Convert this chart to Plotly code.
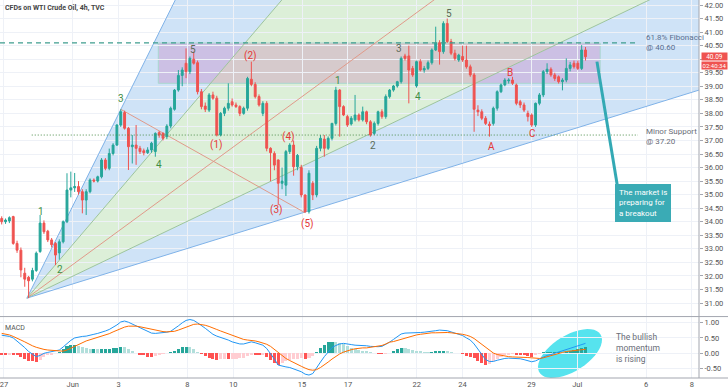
import math
import plotly.graph_objects as go

# ---------------- data ----------------
day_ticks = [0, 3, 5, 8, 10, 13, 15, 18, 20, 23, 25, 28, 30]
day_labels = ["27", "Jun", "3", "8", "10", "15", "17", "22", "24", "29", "Jul", "6", "8"]

opens = [34.12, 34.00, 34.03, 34.19, 33.20, 32.95, 32.10, 31.95, 31.88, 32.20,
         32.90, 33.95, 33.65, 33.33, 33.20, 32.85, 33.26, 34.00, 35.17, 35.25,
         35.30, 35.11, 34.80, 35.11, 35.54, 35.50, 35.66, 36.28, 35.97, 36.52,
         36.83, 37.57, 38.03, 37.45, 36.77, 36.83, 36.71, 36.62, 36.55, 36.65,
         36.59, 37.29, 37.26, 37.14, 37.53, 38.15, 38.86, 39.40, 39.85, 39.54,
         40.00, 39.87, 38.80, 38.27, 38.12, 38.68, 38.56, 37.20, 38.00, 38.19,
         38.43, 38.31, 38.25, 38.00, 38.19, 39.26, 39.07, 38.62, 38.00, 38.37,
         36.71, 36.52, 36.28, 35.42, 35.35, 36.59, 36.83, 36.03, 36.00, 34.99,
         34.37, 35.42, 34.99, 36.71, 37.05, 36.71, 37.08, 37.63, 38.86, 38.25,
         37.88, 37.61, 37.76, 37.94, 37.76, 38.06, 37.69, 37.26, 37.63, 38.06,
         37.88, 38.62, 38.86, 39.01, 39.17, 40.12, 40.12, 39.66, 39.01, 39.91,
         39.60, 39.66, 39.87, 40.34, 40.61, 40.28, 41.32, 40.65, 40.22, 39.97,
         40.10, 39.97, 39.72, 39.42, 38.12, 38.06, 37.82, 37.60, 37.63, 38.19,
         38.80, 39.05, 39.20, 39.23, 39.05, 38.43, 38.31, 38.00, 37.94, 37.57,
         38.37, 38.68, 39.54, 39.63, 39.42, 39.35, 39.17, 39.23, 39.66, 39.85,
         39.85, 39.66, 40.34]
highs = [34.20, 34.12, 34.20, 34.22, 33.30, 33.05, 32.30, 32.00, 32.30, 32.90,
         34.25, 34.05, 33.70, 33.40, 33.25, 33.35, 34.05, 35.79, 35.85, 35.80,
         35.50, 35.20, 35.20, 35.60, 35.60, 35.70, 36.35, 36.35, 36.70, 36.90,
         37.60, 38.15, 38.10, 37.50, 37.20, 37.57, 36.80, 36.70, 36.75, 36.95,
         37.30, 37.35, 37.30, 37.60, 38.25, 38.90, 39.60, 39.70, 40.40, 40.10,
         40.28, 39.95, 38.90, 38.40, 38.75, 38.80, 38.65, 38.05, 38.25, 39.11,
         38.55, 38.40, 38.30, 38.25, 39.35, 39.91, 39.15, 38.70, 38.45, 38.45,
         36.75, 36.60, 36.30, 36.00, 36.65, 36.90, 37.00, 36.50, 36.10, 35.00,
         35.90, 35.50, 36.80, 37.20, 37.20, 37.15, 37.65, 38.98, 38.90, 38.30,
         37.95, 37.90, 38.68, 38.00, 38.25, 38.10, 37.75, 37.70, 38.10, 38.15,
         38.70, 38.90, 39.05, 39.20, 40.10, 40.20, 40.50, 39.75, 39.95, 40.00,
         39.75, 39.95, 40.40, 41.20, 40.70, 41.40, 41.50, 40.75, 40.35, 40.20,
         40.50, 40.50, 39.80, 39.50, 38.30, 38.15, 37.90, 37.70, 38.25, 38.85,
         39.10, 39.30, 39.30, 39.35, 39.10, 38.50, 38.40, 38.10, 38.00, 38.40,
         38.75, 39.60, 39.85, 39.70, 39.50, 39.40, 39.30, 40.03, 39.90, 39.95,
         39.95, 40.52, 40.45]
lows = [33.90, 33.92, 33.95, 33.15, 32.85, 31.95, 31.60, 31.18, 31.80, 32.15,
        32.85, 33.55, 33.25, 33.05, 32.40, 32.60, 33.20, 33.95, 34.90, 35.10,
        35.00, 34.31, 34.25, 35.05, 35.45, 35.45, 35.60, 35.90, 35.90, 36.45,
        36.80, 37.50, 37.40, 35.91, 36.15, 36.10, 36.50, 36.45, 36.50, 36.55,
        36.40, 37.10, 37.00, 37.05, 37.45, 38.10, 38.80, 39.00, 39.30, 39.45,
        39.80, 38.70, 38.15, 38.05, 38.05, 38.50, 37.15, 37.15, 37.90, 38.10,
        38.25, 38.20, 37.90, 37.95, 38.10, 39.00, 38.55, 38.25, 37.90, 36.60,
        35.50, 35.90, 34.62, 35.20, 34.95, 36.50, 35.70, 35.90, 34.90, 34.33,
        34.30, 34.80, 34.90, 36.60, 36.40, 36.65, 37.00, 37.55, 37.14, 37.90,
        37.50, 37.55, 37.70, 37.70, 37.70, 37.60, 37.14, 37.20, 37.55, 37.80,
        37.80, 38.55, 38.80, 38.95, 39.10, 39.95, 38.37, 39.35, 38.95, 39.55,
        39.50, 39.60, 39.80, 40.30, 39.80, 40.20, 40.60, 40.15, 39.95, 39.90,
        39.90, 39.65, 39.35, 37.32, 37.90, 37.75, 37.57, 37.14, 37.55, 38.10,
        38.75, 39.00, 39.10, 39.05, 38.30, 38.20, 38.05, 37.70, 37.50, 37.50,
        38.30, 38.60, 39.45, 39.35, 39.20, 39.10, 38.85, 39.15, 39.55, 39.65,
        39.60, 39.60, 39.95]
closes = [34.00, 34.06, 34.15, 33.20, 32.95, 32.22, 31.88, 31.82, 32.20, 32.84,
          33.95, 33.63, 33.33, 33.15, 32.77, 33.26, 34.00, 35.17, 35.25, 35.30,
          35.11, 34.80, 35.11, 35.54, 35.50, 35.66, 36.28, 35.97, 36.52, 36.83,
          37.57, 38.06, 37.45, 36.77, 36.83, 36.71, 36.59, 36.55, 36.65, 36.90,
          37.26, 37.20, 37.08, 37.53, 38.19, 38.86, 39.40, 39.60, 39.54, 40.03,
          39.85, 38.80, 38.25, 38.15, 38.68, 38.56, 37.20, 38.00, 38.19, 38.37,
          38.31, 38.25, 38.00, 38.19, 39.29, 39.07, 38.62, 38.31, 38.37, 36.71,
          36.55, 36.09, 35.42, 35.50, 36.59, 36.83, 36.03, 36.45, 34.99, 34.37,
          35.79, 34.99, 36.71, 37.08, 36.71, 37.08, 37.63, 38.86, 38.25, 37.94,
          37.57, 37.82, 37.94, 37.76, 38.06, 37.69, 37.20, 37.63, 38.06, 37.88,
          38.62, 38.86, 39.01, 39.17, 40.03, 40.03, 39.60, 39.42, 39.91, 39.60,
          39.66, 39.87, 40.34, 40.59, 40.28, 41.32, 40.65, 40.22, 40.03, 40.15,
          39.97, 39.72, 39.42, 38.15, 38.06, 37.82, 37.63, 37.55, 38.19, 38.80,
          39.05, 39.23, 39.23, 39.11, 38.37, 38.31, 38.12, 37.88, 37.57, 38.37,
          38.68, 39.54, 39.63, 39.42, 39.29, 39.17, 39.23, 39.66, 39.79, 39.72,
          39.66, 40.34, 40.09]

macd_line = [0.59, 0.57, 0.55, 0.50, 0.40, 0.30, 0.18, 0.05, -0.03, -0.12,
             -0.08, -0.01, 0.02, 0.04, 0.06, 0.10, 0.20, 0.32, 0.42, 0.50,
             0.53, 0.55, 0.56, 0.58, 0.62, 0.65, 0.68, 0.73, 0.78, 0.85,
             0.93, 1.03, 1.06, 1.02, 0.96, 0.88, 0.82, 0.76, 0.70, 0.66,
             0.65, 0.66, 0.67, 0.69, 0.72, 0.80, 0.90, 1.00, 1.08, 1.11,
             1.08, 1.00, 0.92, 0.82, 0.72, 0.62, 0.56, 0.52, 0.48, 0.43,
             0.37, 0.33, 0.30, 0.30, 0.34, 0.37, 0.34, 0.29, 0.26, 0.15,
             -0.01, -0.20, -0.40, -0.44, -0.46, -0.48, -0.52, -0.58, -0.62, -0.70,
             -0.73, -0.68, -0.51, -0.30, -0.12, 0.05, 0.18, 0.25, 0.30, 0.32,
             0.31, 0.28, 0.26, 0.26, 0.25, 0.24, 0.22, 0.21, 0.21, 0.22,
             0.28, 0.36, 0.45, 0.55, 0.63, 0.66, 0.66, 0.66, 0.67, 0.68,
             0.69, 0.70, 0.72, 0.74, 0.76, 0.76, 0.74, 0.70, 0.66, 0.64,
             0.58, 0.50, 0.43, 0.30, 0.12, -0.06, -0.22, -0.28, -0.28, -0.24,
             -0.20, -0.18, -0.17, -0.17, -0.18, -0.19, -0.22, -0.26, -0.29, -0.26,
             -0.20, -0.13, -0.08, -0.05, -0.01, 0.03, 0.06, 0.10, 0.14, 0.18,
             0.22, 0.27, 0.32]
signal_line = [0.65, 0.63, 0.60, 0.55, 0.48, 0.43, 0.37, 0.30, 0.24, 0.19,
               0.15, 0.12, 0.10, 0.09, 0.07, 0.06, 0.06, 0.10, 0.16, 0.23,
               0.30, 0.35, 0.40, 0.44, 0.48, 0.52, 0.55, 0.59, 0.64, 0.70,
               0.76, 0.82, 0.86, 0.89, 0.90, 0.89, 0.87, 0.84, 0.82, 0.79,
               0.76, 0.73, 0.71, 0.70, 0.70, 0.72, 0.76, 0.81, 0.87, 0.92,
               0.95, 0.96, 0.95, 0.92, 0.88, 0.82, 0.78, 0.73, 0.68, 0.64,
               0.58, 0.53, 0.48, 0.45, 0.43, 0.42, 0.40, 0.37, 0.33, 0.29,
               0.22, 0.12, 0.00, -0.10, -0.18, -0.25, -0.32, -0.38, -0.44, -0.50,
               -0.55, -0.57, -0.55, -0.48, -0.40, -0.30, -0.20, -0.10, -0.03, 0.03,
               0.08, 0.11, 0.14, 0.16, 0.17, 0.17, 0.19, 0.21, 0.23, 0.25,
               0.30, 0.36, 0.38, 0.42, 0.45, 0.49, 0.53, 0.57, 0.60, 0.62,
               0.64, 0.66, 0.67, 0.67, 0.68, 0.68, 0.68, 0.67, 0.66, 0.64,
               0.62, 0.59, 0.55, 0.48, 0.38, 0.27, 0.17, 0.07, 0.00, -0.05,
               -0.08, -0.10, -0.12, -0.13, -0.13, -0.13, -0.14, -0.15, -0.16, -0.18,
               -0.18, -0.16, -0.12, -0.09, -0.05, -0.02, 0.02, 0.05, 0.07, 0.09,
               0.10, 0.11, 0.12]

# wave labels: (day, price, text, colour-key)
wave_labels = [
    (1.60, 34.37, "1", "g"), (2.44, 32.22, "2", "g"), (5.09, 38.56, "3", "g"),
    (6.76, 36.12, "4", "g"), (8.26, 40.36, "5", "d"),
    (9.25, 36.83, "(1)", "r"), (10.73, 40.13, "(2)", "r"), (11.89, 34.43, "(3)", "r"),
    (12.40, 37.14, "(4)", "r"), (13.23, 33.92, "(5)", "r"),
    (14.55, 39.23, "1", "g"), (16.08, 36.81, "2", "d"), (17.24, 40.40, "3", "d"),
    (18.07, 38.64, "4", "g"), (19.41, 41.69, "5", "d"),
    (21.24, 36.77, "A", "r"), (22.07, 39.52, "B", "r"), (23.06, 37.24, "C", "r"),
]

fib_level = 40.60
support_level = 37.20
last_price = 40.09

# ---------------- geometry / style ----------------
W, H = 728, 391
MR, MB = 29, 13
PW, PH = W - MR, H - MB
XR = [-0.174, 30.31]
YR = [30.52, 42.185]
Y2R = [-0.828, 1.189]
MAIN_DOM = [0.164, 1.0]
MACD_DOM = [0.0, 0.161]
FIRST_BAR, BAR_STEP = -0.1, 0.1675

GREEN = "#26a69a"
RED = "#ef5350"
GRID = "#eef1f7"
FONT = "Roboto"

x = [FIRST_BAR + i * BAR_STEP for i in range(len(closes))]
hist = [m - s for m, s in zip(macd_line, signal_line)]
hcol = []
for i, h in enumerate(hist):
    prev = hist[i - 1] if i else h
    if h >= 0:
        hcol.append("#26a69a" if h >= prev else "#b2dfdb")
    else:
        hcol.append("#ff5252" if h <= prev else "#ffcdd2")

fig = go.Figure()
fig.add_trace(go.Candlestick(
    x=x, open=opens, high=highs, low=lows, close=closes,
    increasing=dict(line=dict(color=GREEN, width=1), fillcolor=GREEN),
    decreasing=dict(line=dict(color=RED, width=1), fillcolor=RED),
    whiskerwidth=0, xaxis="x", yaxis="y", showlegend=False, hoverinfo="skip"))
fig.add_trace(go.Bar(x=x, y=hist, marker=dict(color=hcol, line=dict(width=0)),
                     width=BAR_STEP * 0.8, xaxis="x2", yaxis="y2", showlegend=False))
fig.add_trace(go.Scatter(x=x, y=macd_line, mode="lines", line=dict(color="#2196f3", width=1),
                         xaxis="x2", yaxis="y2", showlegend=False))
fig.add_trace(go.Scatter(x=x, y=signal_line, mode="lines", line=dict(color="#ff6d00", width=1),
                         xaxis="x2", yaxis="y2", showlegend=False))

shapes = []
# fan
O = (1.0, 31.18)
slopes = [1.701, 0.990, 0.620, 0.4055, 0.262]
TOP = 44.0
FAR = 32.0
def at_top(k):
    return O[0] + (TOP - O[1]) / k
def at_far(k):
    return O[1] + k * (FAR - O[0])
blue_fill = "#cfe3f7"
green_fill = "#dcefd8"
shapes.append(dict(type="path", xref="x", yref="y", layer="below", line=dict(width=0),
                   fillcolor=blue_fill,
                   path=f"M{O[0]},{O[1]} L{at_top(slopes[0])},{TOP} L{at_top(slopes[1])},{TOP} Z"))
shapes.append(dict(type="path", xref="x", yref="y", layer="below", line=dict(width=0),
                   fillcolor=green_fill,
                   path=f"M{O[0]},{O[1]} L{at_top(slopes[1])},{TOP} L{FAR},{TOP} L{FAR},{at_far(slopes[3])} Z"))
shapes.append(dict(type="path", xref="x", yref="y", layer="below", line=dict(width=0),
                   fillcolor=blue_fill,
                   path=f"M{O[0]},{O[1]} L{FAR},{at_far(slopes[3])} L{FAR},{at_far(slopes[4])} Z"))
# zone rectangle
shapes.append(dict(type="rect", xref="x", yref="y", layer="below", x0=6.73, x1=26.0,
                   y0=39.11, y1=fib_level, fillcolor="rgba(196,84,168,0.24)",
                   line=dict(color="#a9d8cf", width=1)))
line_cols = ["#7fb2e8", "#9cc49c", "#e09a8a", "#9cc49c", "#7fb2e8"]
for k, c in zip(slopes, line_cols):
    x1 = min(at_top(k), FAR)
    y1 = O[1] + k * (x1 - O[0])
    shapes.append(dict(type="line", xref="x", yref="y", layer="between", x0=O[0], y0=O[1],
                       x1=x1, y1=y1, line=dict(color=c, width=1)))
# red diagonal 3 -> (5)
i3, i5 = 31, 79
shapes.append(dict(type="line", xref="x", yref="y", layer="between", x0=x[i3], y0=highs[i3],
                   x1=x[i5], y1=lows[i5], line=dict(color="#e09a8a", width=1)))
# fib dashed line
shapes.append(dict(type="line", xref="x", yref="y", x0=XR[0], x1=27.65, y0=fib_level, y1=fib_level,
                   line=dict(color="#3f9d8f", width=1.3, dash="5px,4px")))
# minor support dotted
shapes.append(dict(type="line", xref="x", yref="y", x0=1.21, x1=27.65, y0=support_level,
                   y1=support_level, line=dict(color="#4c8c4a", width=1, dash="1px,2px")))
# callout pointer
shapes.append(dict(type="line", xref="x", yref="y", x0=25.86, y0=39.91, x1=26.78, y1=35.17,
                   line=dict(color="#33a9b4", width=3)))
# ellipse in MACD pane (built in pixel space then converted)
def px_to_x(px):
    return XR[0] + px / PW * (XR[1] - XR[0])
dom_top = (1 - MACD_DOM[1]) * PH
dom_h = (MACD_DOM[1] - MACD_DOM[0]) * PH
def py_to_y2(py):
    return Y2R[1] - (py - dom_top) / dom_h * (Y2R[1] - Y2R[0])
cx, cy, a, b, th = 570, 353.5, 36, 18, math.radians(32)
pts = []
for t in range(0, 361, 8):
    tt = math.radians(t)
    ex = a * math.cos(tt)
    ey = b * math.sin(tt)
    px = cx + ex * math.cos(th) - ey * math.sin(th)
    py = cy - (ex * math.sin(th) + ey * math.cos(th))
    pts.append((px_to_x(px), py_to_y2(py)))
path = "M" + " L".join(f"{p[0]:.4f},{p[1]:.4f}" for p in pts) + " Z"
shapes.append(dict(type="path", xref="x2", yref="y2", layer="below", path=path,
                   fillcolor="#56e3ee", line=dict(width=0)))
# pane frame lines
sep = MACD_DOM[1] + 0.0015
shapes.append(dict(type="line", xref="paper", yref="paper", x0=0, x1=W / PW, y0=sep, y1=sep,
                   line=dict(color="#a3a6af", width=1)))
shapes.append(dict(type="line", xref="paper", yref="paper", x0=0, x1=W / PW, y0=0, y1=0,
                   line=dict(color="#a3a6af", width=1)))
shapes.append(dict(type="line", xref="paper", yref="paper", x0=1, x1=1, y0=0, y1=1,
                   line=dict(color="#a3a6af", width=1)))

ann = []
colmap = {"g": "#3f8f45", "r": "#e53935", "d": "#5b6b58"}
for d, p, t, c in wave_labels:
    ann.append(dict(x=d, y=p, xref="x", yref="y", text=t, showarrow=False,
                    font=dict(family=FONT, size=10, color=colmap[c])))
ann.append(dict(x=0.005, y=0.995, xref="paper", yref="paper", xanchor="left", yanchor="top",
                text="<b>CFDs on WTI Crude Oil, 4h, TVC</b>", showarrow=False,
                font=dict(family=FONT, size=7, color="#444")))
ann.append(dict(x=27.9, y=fib_level + 0.02, xref="x", yref="y", xanchor="left", align="left",
                text="61.8% Fibonacci<br>@ 40.60", showarrow=False,
                font=dict(family=FONT, size=8, color="#5a6f90")))
ann.append(dict(x=27.9, y=support_level - 0.06, xref="x", yref="y", xanchor="left", align="left",
                text="Minor Support<br>@ 37.20", showarrow=False,
                font=dict(family=FONT, size=8, color="#6a6d78")))
ann.append(dict(x=27.87, y=34.69, xref="x", yref="y", align="left",
                text="The market is<br>preparing for<br>a breakout", showarrow=False,
                bgcolor="#3aabb5", bordercolor="#3aabb5", borderpad=3,
                font=dict(family=FONT, size=8, color="white")))
ann.append(dict(x=26.6, y=0.16, xref="x2", yref="y2", xanchor="left", align="left",
                text="The bullish<br>momentum<br>is rising", showarrow=False,
                font=dict(family=FONT, size=8.5, color="#6a6d78")))
ann.append(dict(x=0.005, y=MACD_DOM[1] - 0.012, xref="paper", yref="paper", xanchor="left",
                yanchor="top", text="MACD", showarrow=False,
                font=dict(family=FONT, size=7, color="#555")))
ann.append(dict(x=1.003, y=last_price + 0.02, xref="paper", yref="y", xanchor="left",
                text="40.09", showarrow=False, bgcolor=RED, borderpad=0, width=25, height=7,
                font=dict(family=FONT, size=6.5, color="white")))
ann.append(dict(x=1.003, y=last_price - 0.31, xref="paper", yref="y", xanchor="left",
                text="02:40:34", showarrow=False, bgcolor=RED, borderpad=0, width=25, height=7,
                font=dict(family=FONT, size=6, color="white")))

price_ticks = [31 + 0.5 * i for i in range(23)]
price_text = ["" if abs(v - 40.0) < 1e-9 else f"{v:.2f}" for v in price_ticks]

axis_common = dict(range=XR, tickmode="array", tickvals=day_ticks, ticktext=day_labels,
                   showgrid=True, gridcolor=GRID, gridwidth=1, zeroline=False, fixedrange=True)
fig.update_layout(
    width=W, height=H, margin=dict(l=0, r=MR, t=0, b=MB),
    paper_bgcolor="white", plot_bgcolor="white", showlegend=False, bargap=0,
    font=dict(family=FONT, size=8, color="#555"),
    xaxis=dict(**axis_common, anchor="y", showticklabels=False, rangeslider=dict(visible=False)),
    xaxis2=dict(**axis_common, anchor="y2", matches="x", showticklabels=True,
                ticklabeloverflow="allow",
                tickfont=dict(size=7.5, color="#555"), ticks=""),
    yaxis=dict(domain=MAIN_DOM, range=YR, side="right", tickmode="array",
               tickvals=price_ticks, ticktext=price_text,
               showgrid=True, gridcolor=GRID, zeroline=False, ticks="outside", ticklen=3,
               tickcolor="#a3a6af", tickfont=dict(size=7.5, color="#555"), fixedrange=True),
    yaxis2=dict(domain=MACD_DOM, range=Y2R, side="right", tickmode="array",
                tickvals=[1.0, 0.5, 0.0, -0.5], ticktext=["1.00", "0.50", "0.00", "-0.50"],
                showgrid=True, gridcolor=GRID, zeroline=False, ticks="outside", ticklen=3,
                tickcolor="#a3a6af", tickfont=dict(size=7.5, color="#555"), fixedrange=True),
    shapes=shapes, annotations=ann,
)
fig.write_html("out.html", config={"displayModeBar": False, "staticPlot": True},
               post_script="document.body.style.margin='0px';document.body.style.overflow='hidden';")
